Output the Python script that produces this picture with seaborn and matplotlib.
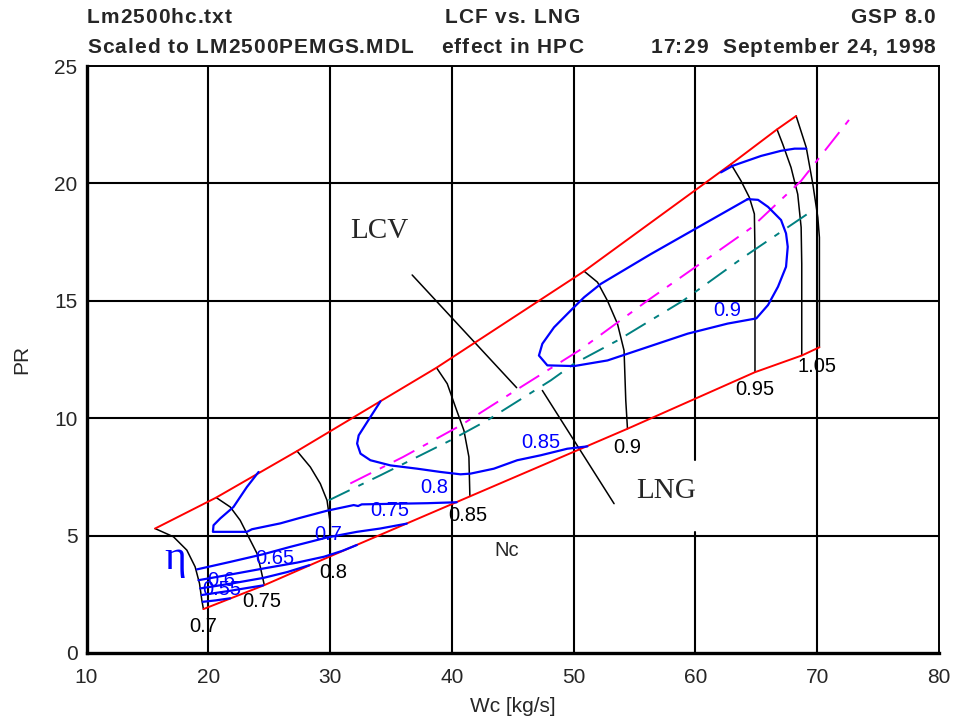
import numpy as np
import pandas as pd
import matplotlib
matplotlib.use("Agg")
import matplotlib.pyplot as plt
import seaborn as sns

# ---------------- data ----------------
X_TICKS = [10, 20, 30, 40, 50, 60, 70, 80]
Y_TICKS = [0, 5, 10, 15, 20, 25]

# corrected speed lines (Nc), from surge side down to choke side
SPEED_LABELS = ["0.7", "0.75", "0.8", "0.85", "0.9", "0.95", "1.0", "1.05"]
SPD_070_WC = [15.63, 17.14, 18.24, 18.92, 19.28, 19.47, 19.60]
SPD_070_PR = [5.30, 4.95, 4.38, 3.67, 2.96, 2.25, 1.87]
SPD_075_WC = [20.65, 21.80, 22.62, 23.45, 24.00, 24.27, 24.60]
SPD_075_PR = [6.62, 6.22, 5.65, 4.80, 4.24, 3.67, 2.89]
SPD_080_WC = [27.29, 28.38, 29.20, 29.75, 30.02, 30.02]
SPD_080_PR = [8.60, 7.92, 7.21, 6.50, 5.51, 4.12]
SPD_085_WC = [38.74, 39.62, 40.30, 40.99, 41.40, 41.48]
SPD_085_PR = [12.15, 11.47, 10.47, 9.48, 8.35, 6.67]
SPD_090_WC = [50.86, 51.96, 52.78, 53.60, 54.14, 54.28, 54.42]
SPD_090_PR = [16.26, 15.79, 15.00, 14.02, 12.88, 10.76, 9.55]
SPD_095_WC = [62.92, 63.74, 64.43, 64.84, 64.89, 64.89]
SPD_095_PR = [20.82, 20.11, 19.40, 18.70, 17.13, 11.96]
SPD_100_WC = [66.70, 67.17, 67.85, 68.40, 68.68, 68.73, 68.73]
SPD_100_PR = [22.30, 21.67, 20.68, 19.54, 18.13, 16.57, 12.67]
SPD_105_WC = [68.27, 69.10, 69.64, 70.05, 70.18, 70.18]
SPD_105_PR = [22.87, 21.53, 19.97, 18.55, 17.70, 13.02]

# efficiency contours (eta)
EFF_055_WC = [19.55, 20.60, 21.80]
EFF_055_PR = [2.18, 2.24, 2.33]
EFF_060_WC = [19.47, 21.80, 24.50]
EFF_060_PR = [2.47, 2.65, 2.88]
EFF_065_WC = [19.33, 21.80, 24.54, 26.50, 28.30]
EFF_065_PR = [2.75, 2.95, 3.20, 3.45, 3.74]
EFF_070_WC = [19.19, 21.80, 24.54, 27.29, 29.50, 31.00, 32.20]
EFF_070_PR = [3.10, 3.34, 3.60, 3.85, 4.10, 4.35, 4.60]
EFF_075_WC = [19.06, 21.80, 24.54, 26.73, 29.75, 32.20, 34.10, 36.30]
EFF_075_PR = [3.56, 3.88, 4.21, 4.52, 4.92, 5.16, 5.30, 5.51]
EFF_080_WC = [24.13, 23.17, 22.07, 20.98, 20.43, 20.38, 21.50, 23.17, 23.58,
              25.91, 27.50, 29.75, 31.94, 32.30, 32.60, 35.78, 38.00, 40.40]
EFF_080_PR = [7.71, 7.07, 6.22, 5.73, 5.44, 5.16, 5.16, 5.16, 5.27,
              5.52, 5.75, 6.06, 6.30, 6.26, 6.33, 6.36, 6.38, 6.42]
EFF_085_WC = [34.14, 33.31, 32.35, 32.22, 32.50, 33.31, 34.96, 37.15, 39.07,
              40.71, 41.54, 43.45, 45.37, 47.29, 49.48, 51.13]
EFF_085_PR = [10.72, 10.05, 9.27, 8.92, 8.49, 8.21, 7.99, 7.85, 7.71,
              7.61, 7.64, 7.85, 8.21, 8.42, 8.70, 8.80]
EFF_090_WC = [64.29, 60.45, 56.34, 52.23, 50.86, 49.90, 48.39, 47.43, 47.15,
              47.84, 50.03, 52.78, 56.07, 59.36, 62.65, 65.00, 65.96, 66.78,
              67.44, 67.58, 67.44, 67.03, 65.96, 65.14, 64.29]
EFF_090_PR = [19.33, 18.20, 16.99, 15.72, 15.15, 14.66, 13.87, 13.17, 12.67,
              12.25, 12.22, 12.46, 13.03, 13.60, 14.03, 14.25, 14.82, 15.60,
              16.45, 17.30, 17.87, 18.44, 19.00, 19.30, 19.33]
EFF_HI_WC = [62.10, 63.06, 65.39, 67.04, 68.14, 69.10]
EFF_HI_PR = [20.47, 20.75, 21.17, 21.39, 21.48, 21.48]
EFF_LABELS = ["0.55", "0.6", "0.65", "0.7", "0.75", "0.8", "0.85", "0.9"]

# operating lines
LCV_OP_WC = [31.66, 36.00, 40.71, 45.65, 50.50, 56.07, 60.45, 64.56, 68.68, 72.65]
LCV_OP_PR = [7.22, 8.35, 9.69, 11.32, 12.90, 15.01, 16.60, 18.10, 20.11, 22.73]
LNG_OP_WC = [29.88, 34.14, 39.90, 42.91, 48.12, 50.03, 53.60, 59.00, 63.93, 69.20]
LNG_OP_PR = [6.50, 7.57, 9.06, 9.91, 11.61, 12.32, 13.31, 15.01, 16.85, 18.70]

# pointer lines for the LCV / LNG annotations
LCV_PTR_WC = [36.74, 45.32]
LCV_PTR_PR = [16.10, 11.30]
LNG_PTR_WC = [47.43, 53.32]
LNG_PTR_PR = [11.18, 6.36]

HEADER_LEFT = ["Lm2500hc.txt", "Scaled to LM2500PEMGS.MDL"]
HEADER_MID = ["LCF vs. LNG", "effect in HPC"]
HEADER_RIGHT = ["GSP 8.0", "17:29  September 24, 1998"]

# ---------------- tables ----------------
speed_wc = [SPD_070_WC, SPD_075_WC, SPD_080_WC, SPD_085_WC,
            SPD_090_WC, SPD_095_WC, SPD_100_WC, SPD_105_WC]
speed_pr = [SPD_070_PR, SPD_075_PR, SPD_080_PR, SPD_085_PR,
            SPD_090_PR, SPD_095_PR, SPD_100_PR, SPD_105_PR]
eff_wc = [EFF_055_WC, EFF_060_WC, EFF_065_WC, EFF_070_WC, EFF_075_WC,
          EFF_080_WC, EFF_085_WC, EFF_090_WC, EFF_HI_WC]
eff_pr = [EFF_055_PR, EFF_060_PR, EFF_065_PR, EFF_070_PR, EFF_075_PR,
          EFF_080_PR, EFF_085_PR, EFF_090_PR, EFF_HI_PR]


def long_table(xs, ys, names):
    rows = []
    for xv, yv, nm in zip(xs, ys, names):
        for i, (a, b) in enumerate(zip(xv, yv)):
            rows.append({"wc": a, "pr": b, "curve": nm, "order": i})
    return pd.DataFrame(rows)


speed_df = long_table(speed_wc, speed_pr, SPEED_LABELS)
eff_df = long_table(eff_wc, eff_pr, EFF_LABELS + ["hi"])
# surge and choke limits join the ends of the speed lines
surge_df = pd.DataFrame({"wc": [s[0] for s in speed_wc], "pr": [s[0] for s in speed_pr]})
choke_df = pd.DataFrame({"wc": [s[-1] for s in speed_wc], "pr": [s[-1] for s in speed_pr]})

# ---------------- figure ----------------
sns.set_style("white")
plt.rcParams["font.family"] = ["Liberation Sans", "DejaVu Sans"]

W, H = 955, 724
fig = plt.figure(figsize=(W / 100, H / 100), dpi=100)
ax = fig.add_axes([86.5 / W, 71 / H, 852.5 / W, 587 / H])
ax.set_xlim(10, 80)
ax.set_ylim(0, 25)

# grid
for xg in X_TICKS[1:-1]:
    if xg == 60:
        ax.axvline(xg, 0, 5.14 / 25, color="black", lw=1.5, zorder=1)
        ax.axvline(xg, 8.2 / 25, 1, color="black", lw=1.5, zorder=1)
    else:
        ax.axvline(xg, color="black", lw=1.5, zorder=1)
for yg in Y_TICKS[1:-1]:
    ax.axhline(yg, color="black", lw=1.5, zorder=1)

# surge / choke limits
sns.lineplot(data=surge_df, x="wc", y="pr", sort=False, estimator=None,
             color="#ff0000", lw=1.4, ax=ax, zorder=3)
sns.lineplot(data=choke_df, x="wc", y="pr", sort=False, estimator=None,
             color="#ff0000", lw=1.4, ax=ax, zorder=3)

# speed lines
sns.lineplot(data=speed_df, x="wc", y="pr", units="curve", sort=False,
             estimator=None, color="black", lw=1.1, ax=ax, zorder=2)

# efficiency contours
sns.lineplot(data=eff_df, x="wc", y="pr", units="curve", sort=False,
             estimator=None, color="#0000ff", lw=1.6, ax=ax, zorder=4)

# operating lines
op_ls = (0, (12, 5, 3, 5))
sns.lineplot(x=LCV_OP_WC, y=LCV_OP_PR, sort=False, estimator=None,
             color="#ff00ff", lw=1.4, linestyle=op_ls, ax=ax, zorder=3)
sns.lineplot(x=LNG_OP_WC, y=LNG_OP_PR, sort=False, estimator=None,
             color="#008080", lw=1.4, linestyle=op_ls, ax=ax, zorder=3)

# annotation pointers
sns.lineplot(x=LCV_PTR_WC, y=LCV_PTR_PR, sort=False, estimator=None,
             color="black", lw=1.1, ax=ax, zorder=2)
sns.lineplot(x=LNG_PTR_WC, y=LNG_PTR_PR, sort=False, estimator=None,
             color="black", lw=1.1, ax=ax, zorder=2)

# speed labels
speed_lbl_pos = [(19.6, 1.12), (24.41, 2.18), (30.23, 3.42), (41.27, 5.87),
                 (54.42, 8.77), (64.84, 11.22), None, (69.97, 12.21)]
for txt, pos in zip(SPEED_LABELS, speed_lbl_pos):
    if pos is None:
        continue
    ax.text(pos[0], pos[1], txt, ha="center", va="center", fontsize=14.5,
            color="black", zorder=5)

# efficiency labels
eff_lbl_pos = [(21.14, 2.72), (21.06, 3.10), (25.5, 4.03), (29.82, 5.05),
               (34.89, 6.08), (38.59, 7.04), (47.29, 8.98), (62.6, 14.58)]
for txt, pos in zip(EFF_LABELS, eff_lbl_pos):
    ax.text(pos[0], pos[1], txt, ha="center", va="center", fontsize=14.5,
            color="#0000ff", zorder=5)

serif = ["Liberation Serif", "DejaVu Serif"]
ax.text(17.3, 4.0, "\u03b7", ha="center", va="center", fontsize=30,
        color="#0000ff", family=serif, zorder=5)
ax.text(34.04, 17.98, "LCV", ha="center", va="center", fontsize=21,
        family=serif, zorder=5)
ax.text(57.63, 6.9, "LNG", ha="center", va="center", fontsize=21,
        family=serif, zorder=5)
ax.text(44.47, 4.35, "Nc", ha="center", va="center", fontsize=14.5, zorder=5)

# axes styling
ax.set_xticks(X_TICKS)
ax.set_xticklabels([str(v) for v in X_TICKS])
ax.set_xticks(np.arange(10, 81, 2), minor=True)
ax.set_yticks(Y_TICKS)
ax.set_yticklabels([str(v) for v in Y_TICKS])
ax.set_yticks(np.arange(0, 26, 1), minor=True)
ax.tick_params(axis="x", which="major", length=0, pad=11, labelsize=15)
ax.tick_params(axis="x", which="minor", direction="in", length=11, width=1.5)
ax.tick_params(axis="y", which="major", length=0, pad=6.5, labelsize=15)
ax.tick_params(axis="y", which="minor", direction="in", length=14.5, width=1.5)

for side in ("left", "bottom"):
    ax.spines[side].set_linewidth(2.4)
for side in ("top", "right"):
    ax.spines[side].set_linewidth(1.4)
for sp in ax.spines.values():
    sp.set_color("black")
    sp.set_visible(True)

ax.set_xlabel("Wc [kg/s]", fontsize=15)
ax.set_ylabel("PR", fontsize=15)
ax.xaxis.set_label_coords(0.5, (653 - 706) / 587)
ax.xaxis.label.set_va("center")
ax.yaxis.set_label_coords((22 - 86.5) / 852.5, 0.5)
ax.yaxis.label.set_va("center")
ax.yaxis.label.set_ha("center")

# header, drawn with a little extra tracking between characters
renderer = fig.canvas.get_renderer()
hdr = dict(fontsize=15, fontweight="bold", va="center")


def text_width(s):
    t = fig.text(0, 0, s, **hdr)
    w = t.get_window_extent(renderer).width
    t.remove()
    return w


def tracked_text(x_px, y_px, s, ha, track=1.0):
    base = text_width("x")
    offsets = [text_width(s[:i] + "x") - base for i in range(len(s))]
    total = text_width(s) + track * (len(s) - 1)
    if ha == "left":
        start = x_px
    elif ha == "right":
        start = x_px - total
    else:
        start = x_px - total / 2
    for i, ch in enumerate(s):
        if ch == " ":
            continue
        fig.text((start + offsets[i] + i * track) / W, 1 - y_px / H, ch,
                 ha="left", **hdr)


for row, y_px in enumerate([17.5, 47.5]):
    tracked_text(87, y_px, HEADER_LEFT[row], "left")
    tracked_text(512, y_px, HEADER_MID[row], "center")
    tracked_text(935, y_px, HEADER_RIGHT[row], "right")

fig.savefig("out.png", dpi=100)
